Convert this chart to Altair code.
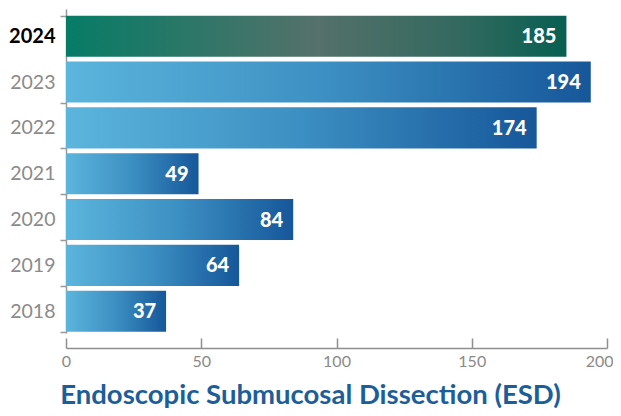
import altair as alt
import pandas as pd

years = ["2024", "2023", "2022", "2021", "2020", "2019", "2018"]
values = [185, 194, 174, 49, 84, 64, 37]
highlight_year = "2024"
x_ticks = [0, 50, 100, 150, 200]
title_text = "Endoscopic Submucosal Dissection (ESD)"

df = pd.DataFrame({"year": years, "value": values})

FONT = "Lato"

blue_grad = alt.LinearGradient(
    gradient="linear",
    stops=[
        alt.GradientStop(color="#5bb5dc", offset=0),
        alt.GradientStop(color="#3c8fc2", offset=0.5),
        alt.GradientStop(color="#16579a", offset=1),
    ],
    x1=0, x2=1, y1=0, y2=0,
)
green_grad = alt.LinearGradient(
    gradient="linear",
    stops=[
        alt.GradientStop(color="#067c66", offset=0),
        alt.GradientStop(color="#54716a", offset=0.5),
        alt.GradientStop(color="#34695f", offset=0.78),
        alt.GradientStop(color="#085f52", offset=1),
    ],
    x1=0, x2=1, y1=0, y2=0,
)

x_enc = alt.X(
    "value:Q",
    scale=alt.Scale(domain=[0, 200], nice=False),
    axis=alt.Axis(
        values=x_ticks,
        grid=False,
        offset=15,
        domainColor="#8f8f8f",
        domainWidth=1.5,
        tickColor="#8f8f8f",
        tickWidth=1.5,
        tickSize=alt.ExprRef("-10"),
        labelPadding=15,
        labelFont=FONT,
        labelFontSize=16,
        labelColor="#8a8a8a",
        labelAlign=alt.ExprRef("datum.value == 200 ? 'right' : 'center'"),
        labelOffset=alt.ExprRef("datum.value == 200 ? 6 : 0"),
        title=title_text,
        titleFont=FONT,
        titleFontSize=27.5,
        titleFontWeight="bold",
        titleColor="#1c5e99",
        titleX=244,
        titleY=55,
        titleBaseline="alphabetic",
        titleAnchor="middle",
        titleAlign="center",
    ),
)

y_enc = alt.Y(
    "year:N",
    sort=years,
    scale=alt.Scale(paddingInner=0.105, paddingOuter=0.087, align=0.84),
    axis=alt.Axis(
        title=None,
        domainColor="#9a9a9a",
        domainWidth=1.5,
        tickBand="extent",
        tickExtra=False,
        tickSize=6,
        tickWidth=1.5,
        tickColor=alt.ExprRef("datum.value == '2024' ? 'transparent' : '#9a9a9a'"),
        labelPadding=5,
        labelFont=FONT,
        labelFontSize=alt.ExprRef("datum.value == '2024' ? 20 : 19.5"),
        labelFontWeight=alt.ExprRef("datum.value == '2024' ? 'bold' : 'normal'"),
        labelColor=alt.ExprRef("datum.value == '2024' ? '#000000' : '#8a8a8a'"),
    ),
)

base = alt.Chart(df).encode(x=x_enc, y=y_enc)

bars_blue = base.mark_bar(color=blue_grad).transform_filter(
    f"datum.year != '{highlight_year}'"
)
bars_green = base.mark_bar(color=green_grad).transform_filter(
    f"datum.year == '{highlight_year}'"
)
labels = base.mark_text(
    align="right",
    baseline="middle",
    dx=-10,
    dy=1,
    color="white",
    font=FONT,
    fontSize=20,
    fontWeight=900,
).encode(text="value:Q")

chart = (
    alt.layer(bars_blue, bars_green, labels)
    .properties(
        width=541,
        height=324,
        autosize=alt.AutoSizeParams(type="none"),
        padding={"left": 58, "top": 1, "right": 6, "bottom": 75},
    )
    .configure_view(strokeOpacity=0)
)

chart.save("out.html", embed_options={"renderer": "svg", "actions": False})
